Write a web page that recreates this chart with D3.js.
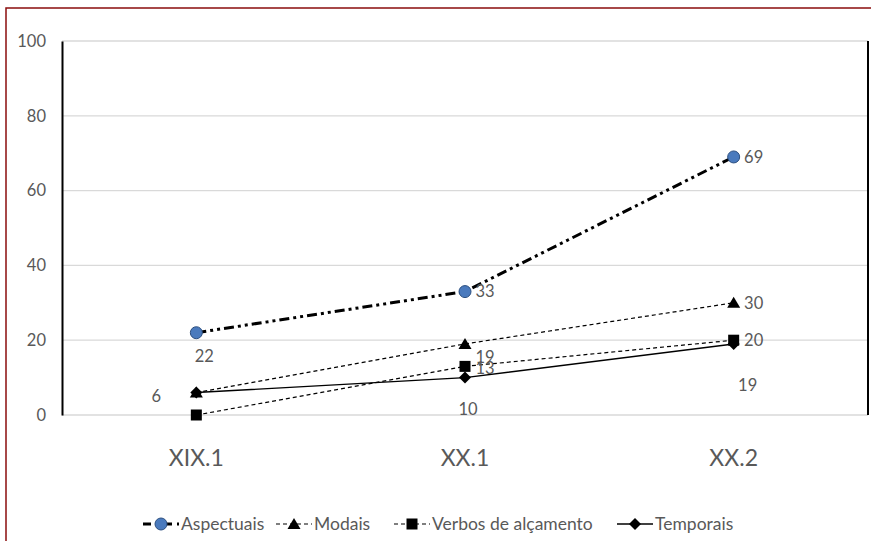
<!DOCTYPE html>
<html>
<head>
<meta charset="utf-8">
<script src="https://cdn.jsdelivr.net/npm/d3@7"></script>
<style>
  html, body { margin: 0; padding: 0; background: #fff; }
  svg { display: block; font-family: Lato, "Open Sans", sans-serif; }
</style>
</head>
<body>
<svg id="chart" width="871" height="541"></svg>
<script>
// Periods on the x axis
const categories = ["XIX.1", "XX.1", "XX.2"];

// Series values (%)
const aspectuais = [22, 33, 69];
const modais = [6, 19, 30];
const verbosAlcamento = [0, 13, 20];
const temporais = [6, 10, 19];

// Y axis ticks
const yTicks = [0, 20, 40, 60, 80, 100];

// Series definitions: name, values, line style and marker
const series = [
  { name: "Aspectuais", values: aspectuais, width: 3, dash: "10,4,3,4,3,4", marker: "circle" },
  { name: "Modais", values: modais, width: 1.2, dash: "4,3", marker: "triangle" },
  { name: "Verbos de alçamento", values: verbosAlcamento, width: 1.2, dash: "4,3", marker: "square" },
  { name: "Temporais", values: temporais, width: 1.4, dash: null, marker: "diamond" }
];

// Data-label placement (offset of label centre from its point), null = no label
const labelOffsets = {
  "Aspectuais": [[8, 24], [20, 0], [20, 0]],
  "Modais": [[-40, 4], [20, 13], [20, 0]],
  "Verbos de alçamento": [null, [20, 2], [20, 0]],
  "Temporais": [null, [3, 32], [14, 41]]
};

const svg = d3.select("#chart");
const margin = { left: 62, right: 3, top: 41, bottom: 126 };
const W = 871, H = 541;

// outer frame
svg.append("rect")
  .attr("x", 6).attr("y", 8)
  .attr("width", W + 10).attr("height", H + 10)
  .attr("fill", "none").attr("stroke", "#8b0d0d").attr("stroke-width", 1.5);

const x = d3.scaleBand().domain(categories).range([margin.left, W - margin.right]);
const y = d3.scaleLinear().domain([0, 100]).range([H - margin.bottom, margin.top]);
const xc = c => x(c) + x.bandwidth() / 2;

// gridlines
svg.append("g").selectAll("line").data(yTicks).join("line")
  .attr("x1", margin.left).attr("x2", W - margin.right)
  .attr("y1", d => y(d)).attr("y2", d => y(d))
  .attr("stroke", "#d9d9d9").attr("stroke-width", 1.3);

// y axis
const yAxis = svg.append("g")
  .attr("transform", `translate(${margin.left},0)`)
  .call(d3.axisLeft(y).tickValues(yTicks).tickSize(0).tickPadding(16));
yAxis.select(".domain").attr("stroke", "#000").attr("stroke-width", 2);
yAxis.selectAll("text").attr("fill", "#595959").style("font-size", "16.5px")
  .style("font-family", "Lato, sans-serif");

// right frame line of plot area
svg.append("line")
  .attr("x1", W - margin.right).attr("x2", W - margin.right)
  .attr("y1", y(100)).attr("y2", y(0))
  .attr("stroke", "#000").attr("stroke-width", 2);

// x axis labels
const xAxis = svg.append("g")
  .attr("transform", `translate(0,${y(0)})`)
  .call(d3.axisBottom(x).tickSize(0).tickPadding(35));
xAxis.select(".domain").remove();
xAxis.selectAll("text").attr("fill", "#595959").style("font-size", "23px")
  .style("font-family", "Lato, sans-serif");

// marker drawing
function drawMarker(g, type, cx, cy) {
  if (type === "circle") {
    g.append("circle").attr("cx", cx).attr("cy", cy).attr("r", 6)
      .attr("fill", "#4a7abd").attr("stroke", "#2c4f80").attr("stroke-width", 1);
  } else if (type === "triangle") {
    g.append("path").attr("d", `M${cx},${cy - 6}L${cx + 6.5},${cy + 5}L${cx - 6.5},${cy + 5}Z`).attr("fill", "#000");
  } else if (type === "square") {
    g.append("rect").attr("x", cx - 5.5).attr("y", cy - 5.5).attr("width", 11).attr("height", 11).attr("fill", "#000");
  } else if (type === "diamond") {
    g.append("path").attr("d", `M${cx},${cy - 6}L${cx + 6},${cy}L${cx},${cy + 6}L${cx - 6},${cy}Z`).attr("fill", "#000");
  }
}

const line = d3.line().x((d, i) => xc(categories[i])).y(d => y(d));

// draw series back to front so Aspectuais sits on top
[...series].reverse().forEach(s => {
  const g = svg.append("g");
  g.append("path").datum(s.values)
    .attr("d", line)
    .attr("fill", "none").attr("stroke", "#000")
    .attr("stroke-width", s.width)
    .attr("stroke-dasharray", s.dash);
  s.values.forEach((v, i) => drawMarker(g, s.marker, xc(categories[i]), y(v)));
});

// data labels
series.forEach(s => {
  s.values.forEach((v, i) => {
    const off = labelOffsets[s.name][i];
    if (!off) return;
    svg.append("text")
      .attr("x", xc(categories[i]) + off[0])
      .attr("y", y(v) + off[1])
      .attr("dy", "0.35em")
      .attr("text-anchor", "middle")
      .attr("fill", "#595959")
      .style("font-size", "16.5px")
      .text(v);
  });
});

// legend
const legendY = 524;
const legendItems = [
  { s: series[0], x0: 143 },
  { s: series[1], x0: 276 },
  { s: series[2], x0: 394 },
  { s: series[3], x0: 617 }
];
legendItems.forEach(({ s, x0 }) => {
  const g = svg.append("g");
  g.append("line")
    .attr("x1", x0).attr("x2", x0 + 36)
    .attr("y1", legendY).attr("y2", legendY)
    .attr("stroke", "#000").attr("stroke-width", s.width)
    .attr("stroke-dasharray", s.name === "Aspectuais" ? "8,5,3,5" : s.dash);
  drawMarker(g, s.marker, x0 + 18, legendY);
  g.append("text")
    .attr("x", x0 + 38).attr("y", legendY).attr("dy", "0.35em")
    .attr("fill", "#595959").style("font-size", "17.5px")
    .text(s.name);
});
</script>
</body>
</html>
